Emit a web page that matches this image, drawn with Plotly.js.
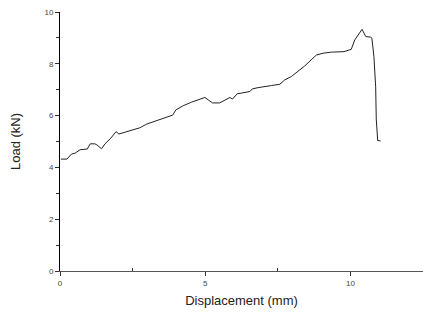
<!DOCTYPE html>
<html>
<head>
<meta charset="utf-8">
<script src="https://cdn.plot.ly/plotly-3.0.1.min.js"></script>
<style>html,body{margin:0;padding:0;background:#fff;}#chart{width:423px;height:314px;}</style>
</head>
<body>
<div id="chart"></div>
<script>
var displacement = [0.03,0.24,0.40,0.52,0.69,0.94,1.04,1.20,1.27,1.43,1.55,1.75,1.93,2.03,2.24,2.49,2.75,2.98,3.24,3.44,3.88,3.99,4.24,4.53,4.76,4.99,5.10,5.25,5.50,5.76,5.85,5.94,6.10,6.25,6.54,6.62,6.82,7.28,7.57,7.74,7.97,8.43,8.83,9.06,9.35,9.78,10.03,10.15,10.26,10.40,10.53,10.70,10.74,10.81,10.87,10.89,10.94,11.04];
var load = [4.32,4.32,4.52,4.55,4.68,4.71,4.91,4.91,4.87,4.72,4.91,5.13,5.38,5.29,5.36,5.45,5.53,5.67,5.77,5.87,6.02,6.22,6.38,6.52,6.61,6.70,6.61,6.49,6.49,6.66,6.70,6.64,6.84,6.87,6.93,7.03,7.08,7.16,7.21,7.38,7.51,7.92,8.34,8.41,8.45,8.47,8.56,8.92,9.08,9.33,9.05,9.03,8.99,8.28,7.12,5.87,5.04,5.02];
var xTickVals = [0,5,10];
var xTickText = ["0","5","10"];
var yTickVals = [0,2,4,6,8,10];
var yTickText = ["0","2","4","6","8","10"];

var trace = {x: displacement, y: load, type: 'scatter', mode: 'lines',
  line: {color: '#222', width: 1}, hoverinfo: 'skip'};

var layout = {
  width: 423, height: 314,
  margin: {l: 60, r: 0, t: 12, b: 42.5, pad: 0},
  paper_bgcolor: '#fff', plot_bgcolor: '#fff',
  showlegend: false,
  font: {family: 'Liberation Sans, Arial, sans-serif', color: '#333'},
  xaxis: {
    range: [0, 12.5], showgrid: false, zeroline: false,
    showline: true, linecolor: '#555', linewidth: 1,
    tickmode: 'array', tickvals: xTickVals, ticktext: xTickText,
    ticks: 'outside', ticklen: 4, tickcolor: '#333', tickwidth: 1,
    tickfont: {size: 8, color: '#444'},
    minor: {tickmode: 'array', tickvals: [2.5, 7.5], ticks: 'inside', ticklen: 3, tickcolor: '#333', showgrid: false},
    title: {text: 'Displacement (mm)', font: {size: 13, color: '#222'}, standoff: 9}
  },
  yaxis: {
    range: [0, 10], showgrid: false, zeroline: false,
    showline: true, linecolor: '#000', linewidth: 1,
    tickmode: 'array', tickvals: yTickVals, ticktext: yTickText,
    ticks: 'outside', ticklen: 4, tickcolor: '#333', tickwidth: 1,
    tickfont: {size: 8, color: '#444'},
    minor: {tickmode: 'array', tickvals: [1,3,5,7,9], ticks: 'outside', ticklen: 3, tickcolor: '#333', showgrid: false},
    title: {text: 'Load (kN)', font: {size: 13, color: '#222'}, standoff: 20}
  }
};
Plotly.newPlot('chart', [trace], layout, {staticPlot: true, displayModeBar: false});
</script>
</body>
</html>
